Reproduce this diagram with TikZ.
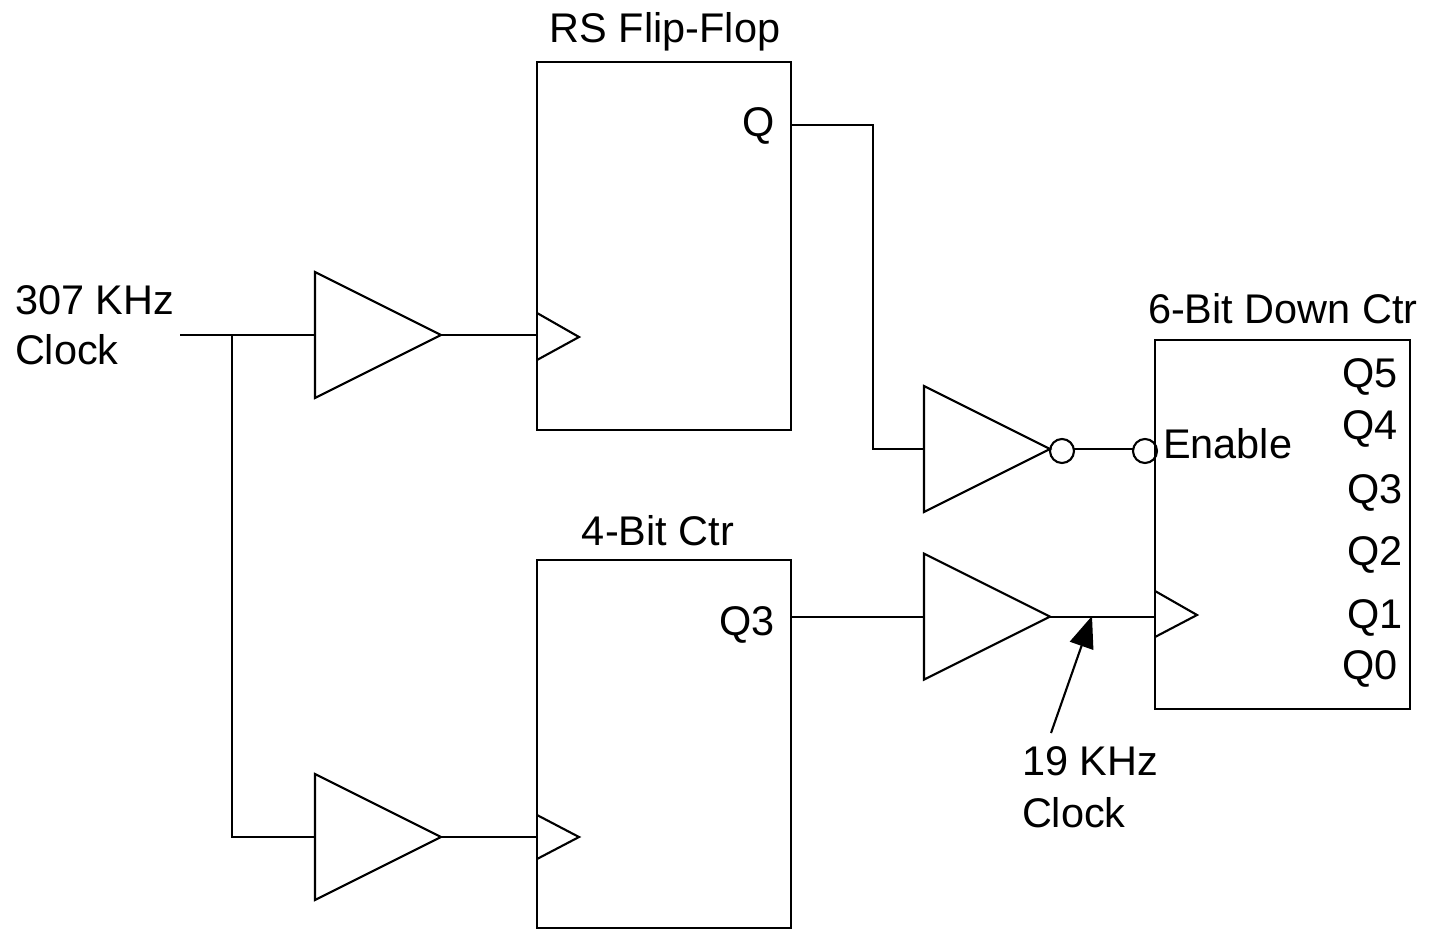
\documentclass[tikz,border=0pt]{standalone}
\usepackage{fontspec}
\setmainfont{Liberation Sans}
\usepackage{tikz}
\usetikzlibrary{shapes.geometric,arrows.meta}

\begin{document}
\begin{tikzpicture}[x=0.02cm, y=-0.02cm, line width=1.2pt,
  bx/.style 2 args={rectangle, draw, anchor=north west, inner sep=0pt, outer sep=0pt,
                    minimum width=#1, minimum height=#2},
  buf/.style={isosceles triangle, isosceles triangle stretches, draw, anchor=lower side, inner sep=0pt,
              outer sep=0pt, minimum width=2.52cm, minimum height=2.52cm},
  bub/.style={circle, draw, inner sep=0pt, outer sep=0pt, minimum size=0.48cm},
  lb/.style={font=\fontsize{23.6}{29.5}\selectfont, inner sep=0pt, outer sep=0pt, anchor=base west},
  lbc/.style={lb, anchor=base},
  fl/.style={-{Triangle[length=18pt, width=14pt]}}]
\useasboundingbox (0,0) rectangle (1429,929);

% boites
\node[bx={5.08cm}{7.36cm}] (rs) at (537,62) {};
\node[bx={5.08cm}{7.36cm}] (ctrq) at (537,560) {};
\node[bx={5.1cm}{7.38cm}] (down) at (1155,340) {};
\node[lbc] (trs) at (665,43) {RS Flip-Flop};
\node[lbc] (tctr) at (658,545) {4-Bit Ctr};
\node[lb] (tdown) at (1148,323) {6-Bit Down Ctr};

% broches
\node[lb] (lq) at (742,137) {Q};
\node[lb] (lq3) at (719,635) {Q3};
\node[lb] (len) at (1163,458) {Enable};
\node[lb] (q5) at (1342,387) {Q5};
\node[lb] (q4) at (1342,439) {Q4};
\node[lb] (q3) at (1347,503) {Q3};
\node[lb] (q2) at (1347,565) {Q2};
\node[lb] (q1) at (1347,628) {Q1};
\node[lb] (q0) at (1342,679) {Q0};

% entrees horloge
\coordinate (ck1) at (537,335);
\coordinate (ck2) at (537,837);
\coordinate (ck3) at (1155,616);
\draw (537,313) -- (579,337) -- (537,360);
\draw (537,815) -- (579,837) -- (537,859);
\draw (1155,591) -- (1197,615) -- (1155,637);

% tampons
\node[buf] (b1) at (315,335) {};
\node[buf] (b2) at (315,837) {};
\node[buf] (b3) at (924,449) {};
\node[buf] (b4) at (924,616.6) {};
\node[bub] (i1) at (1062,451) {};
\node[bub] (i2) at (1145,451) {};

% fils
\node[lb] (clk1) at (15,314) {307 KHz};
\node[lb] (clk2) at (15,364) {Clock};
\coordinate (clkin) at (180,335);
\coordinate (nd) at (232,335);
\coordinate (qrs) at (791,125);
\coordinate (qctr) at (791,616.6);
\draw (clkin) -- (b1.lower side);
\draw (nd) |- (b2.lower side);
\draw (b1.apex) -- (ck1);
\draw (b2.apex) -- (ck2);
\draw (qrs) -- (873,125) |- (b3.lower side);
\draw (i1.10) -- (i2.170);
\draw (qctr) -- (b4.lower side);
\draw (b4.apex) -- (ck3 |- b4.apex);

% fleche 19 KHz
\node[lb] (f1) at (1022,775) {19 KHz};
\node[lb] (f2) at (1022,827) {Clock};
\coordinate (fbas) at (1051,733);
\coordinate (fpt) at (1092,616);
\draw[fl] (fbas) -- (fpt);

\end{tikzpicture}
\end{document}
